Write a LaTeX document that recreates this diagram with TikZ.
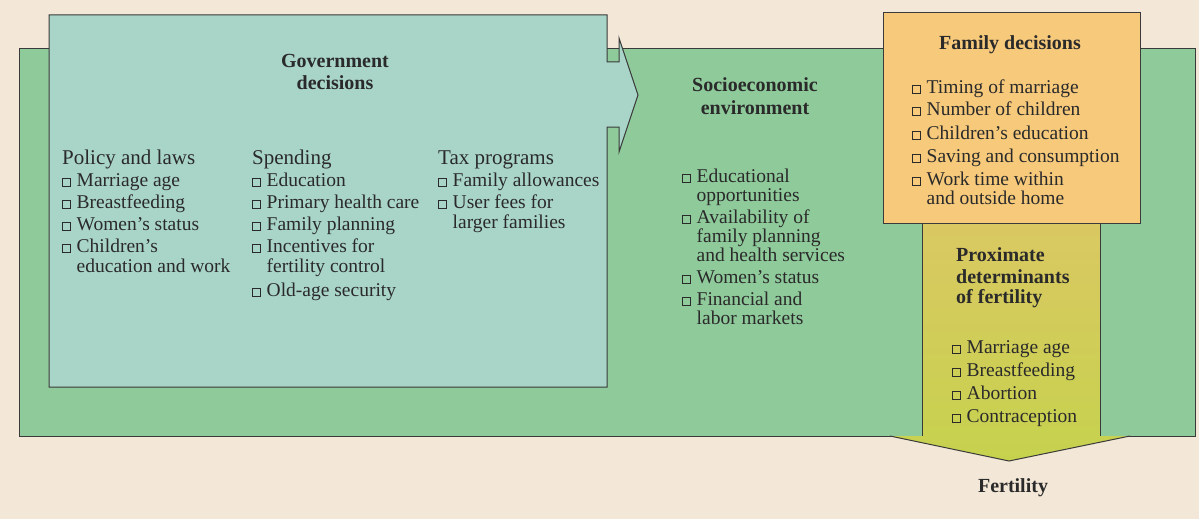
\documentclass[tikz,border=0pt]{standalone}
\usepackage{fontspec}
\setmainfont{Liberation Serif}
\definecolor{cream}{HTML}{F3E7D7}
\definecolor{greenbg}{HTML}{8FCA9B}
\definecolor{bluebg}{HTML}{A9D5C8}
\definecolor{famcol}{HTML}{F6C97B}
\definecolor{proxtop}{HTML}{DAC862}
\definecolor{proxbot}{HTML}{C6D24E}
\definecolor{ink}{HTML}{2A2A2A}
\definecolor{edge}{HTML}{3A3A3A}
\newcommand\sqb{{\setlength\fboxsep{0pt}\setlength\fboxrule{0.9pt}\fbox{\rule{0pt}{7.2pt}\rule{7.2pt}{0pt}}}\hspace{5.5pt}}
\newcommand\ind{\hphantom{\sqb}}
\tikzset{
  txt/.style={inner sep=0pt, anchor=base west, text=ink, font=\fontsize{19.5}{20}\selectfont},
  subhd/.style={inner sep=0pt, anchor=base west, text=ink, font=\fontsize{21}{22}\selectfont},
  hd/.style={inner sep=0pt, anchor=base, text=ink, font=\bfseries\fontsize{20}{21}\selectfont},
  hdl/.style={inner sep=0pt, anchor=base west, text=ink, font=\bfseries\fontsize{20}{21}\selectfont},
  outline/.style={draw=edge, line width=1pt},
}
\begin{document}
\begin{tikzpicture}[x=1pt,y=-1pt]
\useasboundingbox (0,0) rectangle (1199,519);
% background
\fill[cream] (0,0) rectangle (1199,519);
% socioeconomic environment (green)
\fill[greenbg] (19,49) rectangle (1195,436);
\draw[outline] (19,49) rectangle (1195,436);
% proximate determinants arrow
\shade[top color=proxtop, bottom color=proxbot]
  (922,223) -- (1100,223) -- (1100,436) -- (1130,436) -- (1009,461) -- (890,436) -- (922,436) -- cycle;
\draw[outline] (922,223) -- (922,436);
\draw[outline] (1100,223) -- (1100,436);
\draw[outline] (890,436) -- (1009,461) -- (1130,436);
% government decisions box with arrow
\fill[bluebg] (49,15) -- (607,15) -- (607,62) -- (619,62) -- (619,38) -- (638,95) -- (619,152)
  -- (619,127) -- (607,127) -- (607,387) -- (49,387) -- cycle;
\draw[outline] (49,15) -- (607,15) -- (607,62) -- (619,62) -- (619,38) -- (638,95) -- (619,152)
  -- (619,127) -- (607,127) -- (607,387) -- (49,387) -- cycle;
\draw[outline] (607,49) -- (619,49);
% family decisions box
\fill[famcol] (883,13) rectangle (1140,223);
\draw[outline] (883,13) rectangle (1140,223);

% ---- Government decisions text
\node[hd] (gov1) at (335,67) {Government};
\node[hd] (gov2) at (335,89) {decisions};
\node[subhd] (pol) at (62,164) {Policy and laws};
\node[txt] (pol1) at (62,186) {\sqb Marriage age};
\node[txt] (pol2) at (62,208) {\sqb Breastfeeding};
\node[txt] (pol3) at (62,230) {\sqb Women's status};
\node[txt] (pol4) at (62,252) {\sqb Children's};
\node[txt] (pol4b) at (62,272) {\ind education and work};
\node[subhd] (spe) at (252,164) {Spending};
\node[txt] (spe1) at (252,186) {\sqb Education};
\node[txt] (spe2) at (252,208) {\sqb Primary health care};
\node[txt] (spe3) at (252,230) {\sqb Family planning};
\node[txt] (spe4) at (252,252) {\sqb Incentives for};
\node[txt] (spe4b) at (252,272) {\ind fertility control};
\node[txt] (spe5) at (252,296) {\sqb Old-age security};
\node[subhd] (tax) at (438,164) {Tax programs};
\node[txt] (tax1) at (438,186) {\sqb Family allowances};
\node[txt] (tax2) at (438,208) {\sqb User fees for};
\node[txt] (tax2b) at (438,228) {\ind larger families};

% ---- Socioeconomic environment
\node[hd] (soc1) at (755,91) {Socioeconomic};
\node[hd] (soc2) at (755,114) {environment};
\node[txt] (soc3) at (682,182) {\sqb Educational};
\node[txt] (soc3b) at (682,201) {\ind opportunities};
\node[txt] (soc4) at (682,223) {\sqb Availability of};
\node[txt] (soc4b) at (682,242) {\ind family planning};
\node[txt] (soc4c) at (682,261) {\ind and health services};
\node[txt] (soc5) at (682,283) {\sqb Women's status};
\node[txt] (soc6) at (682,305) {\sqb Financial and};
\node[txt] (soc6b) at (682,324) {\ind labor markets};

% ---- Family decisions
\node[hd] (fam) at (1010,49) {Family decisions};
\node[txt] (fam1) at (912,93) {\sqb Timing of marriage};
\node[txt] (fam2) at (912,115) {\sqb Number of children};
\node[txt] (fam3) at (912,139) {\sqb Children's education};
\node[txt] (fam4) at (912,162) {\sqb Saving and consumption};
\node[txt] (fam5) at (912,185) {\sqb Work time within};
\node[txt] (fam5b) at (912,204) {\ind and outside home};

% ---- Proximate determinants
\node[hdl] (prx1) at (956,261) {Proximate};
\node[hdl] (prx2) at (956,283) {determinants};
\node[hdl] (prx3) at (956,303) {of fertility};
\node[txt] (prx4) at (952,353) {\sqb Marriage age};
\node[txt] (prx5) at (952,376) {\sqb Breastfeeding};
\node[txt] (prx6) at (952,399) {\sqb Abortion};
\node[txt] (prx7) at (952,422) {\sqb Contraception};

% ---- Fertility
\node[hd] (fert) at (1013,492) {Fertility};
\end{tikzpicture}
\end{document}
